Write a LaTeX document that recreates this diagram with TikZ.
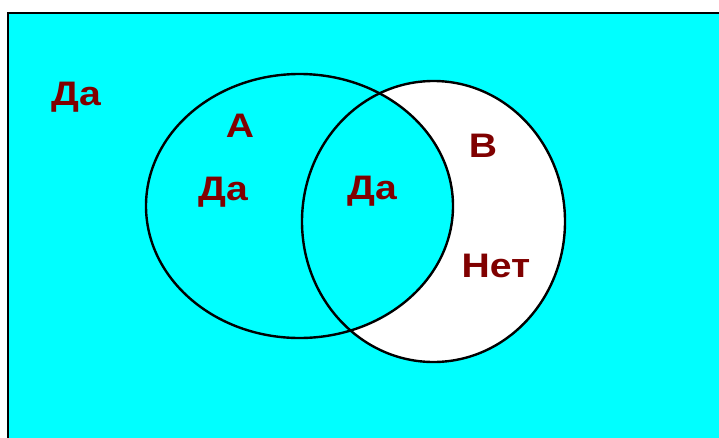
\documentclass[tikz,border=0pt]{standalone}
\usepackage{fontspec}
\setmainfont{Liberation Sans}
\newfontfamily\lblfont[FakeStretch=1.15]{Liberation Sans}
\usepackage{xcolor}
\definecolor{bgcyan}{HTML}{00FFFF}
\definecolor{lblred}{HTML}{800000}

\begin{document}
\begin{tikzpicture}[x=1pt, y=-1pt,
    lbl/.style={text=lblred, font=\lblfont\bfseries\fontsize{34}{34}\selectfont, anchor=base, inner sep=0pt},
    setline/.style={line width=2.4pt}]
        \useasboundingbox (0,0) rectangle (719,437);

        % --- FRAME ---
        \fill[bgcyan] (8,13) rectangle (730,450);
        \draw[line width=2.4pt] (730,13) -- (8,13) -- (8,450);

        % --- SETS ---
        \fill[white] (433.5,221.5) ellipse (131.5 and 140.5);
        \fill[bgcyan] (299.5,206) ellipse (153.5 and 132);
        \draw[setline] (299.5,206) ellipse (153.5 and 132);
        \draw[setline] (433.5,221.5) ellipse (131.5 and 140.5);

        % --- LABELS ---
        \node[lbl] (outside) at (76,105) {Да};
        \node[lbl] (nameA)   at (240,137) {А};
        \node[lbl] (onlyA)   at (223,200) {Да};
        \node[lbl] (bothAB)  at (372,199) {Да};
        \node[lbl] (nameB)   at (483,157) {В};
        \node[lbl] (onlyB)   at (496,277) {Нет};
\end{tikzpicture}
\end{document}
